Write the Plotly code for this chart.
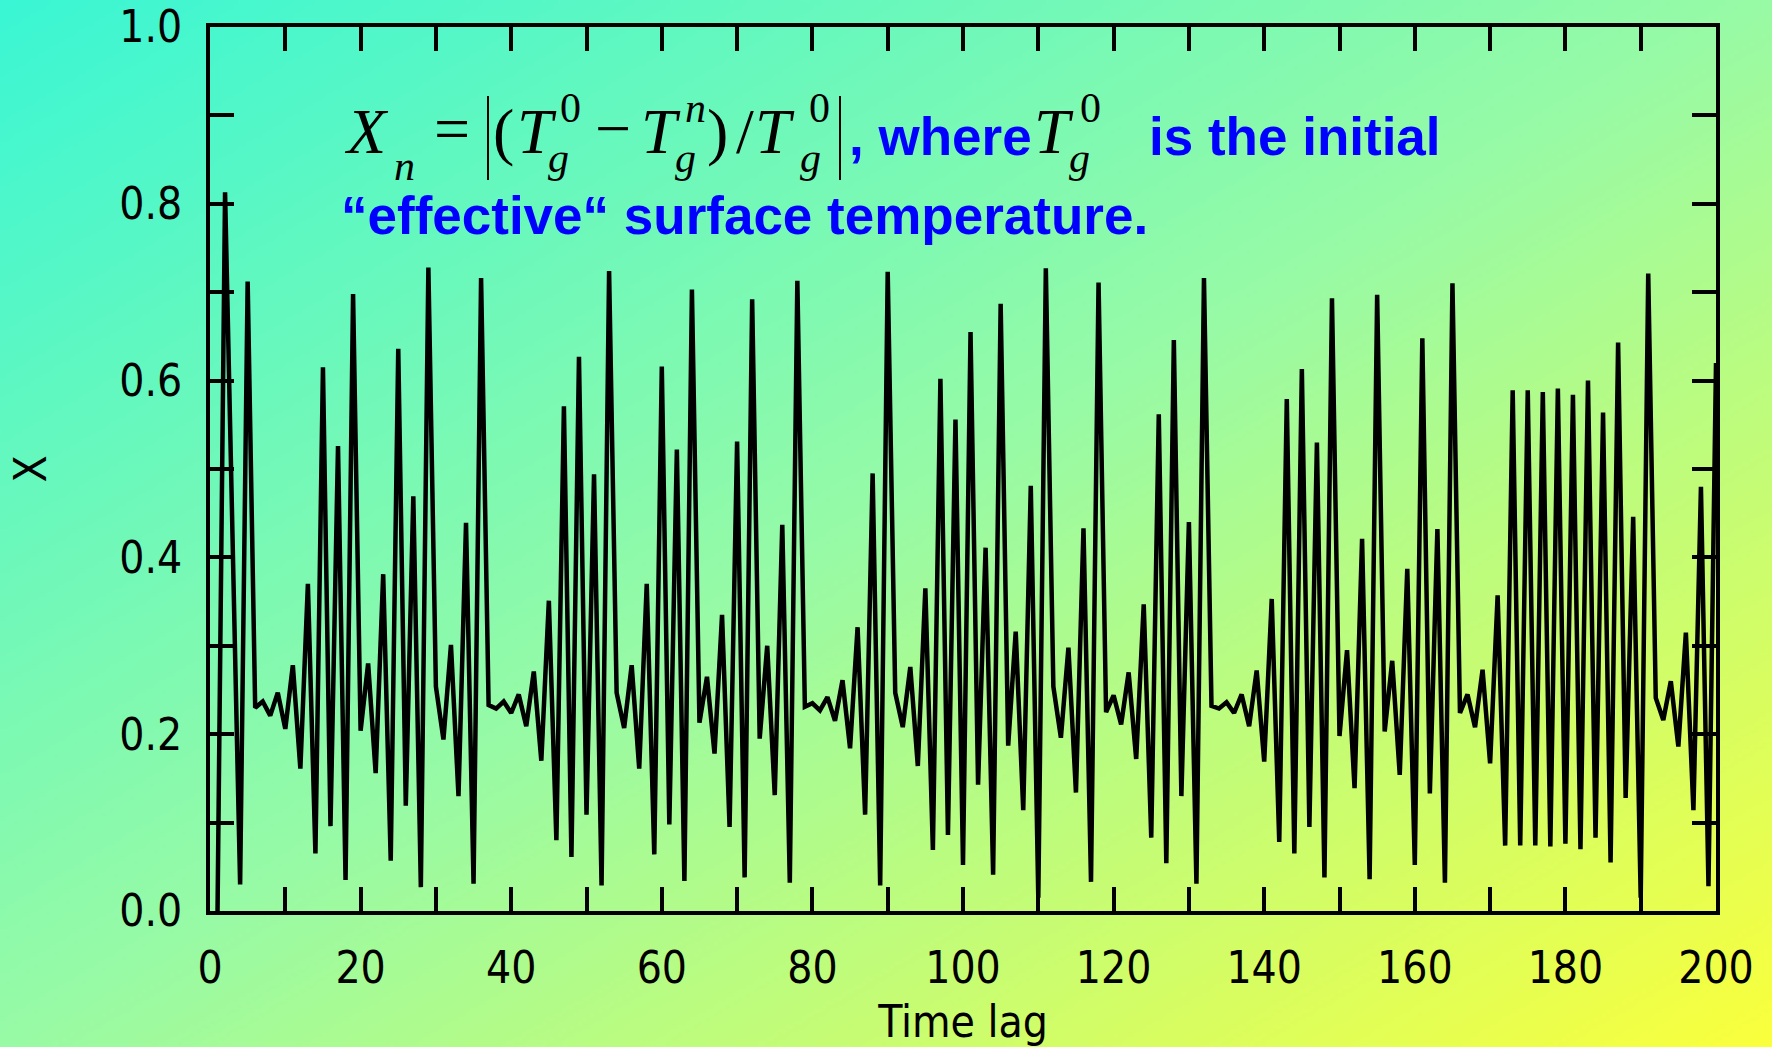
import base64, zlib, struct
import numpy as np
import plotly.graph_objects as go

# ---------------- data ----------------
time_lag = list(range(1, 201))
x_values = [
    0.000, 0.813, 0.420, 0.030, 0.712, 0.230, 0.237, 0.221, 0.247, 0.206,
    0.278, 0.161, 0.370, 0.065, 0.615, 0.096, 0.526, 0.035, 0.698, 0.204,
    0.280, 0.156, 0.381, 0.057, 0.636, 0.119, 0.469, 0.027, 0.728, 0.254,
    0.194, 0.301, 0.130, 0.439, 0.031, 0.716, 0.233, 0.229, 0.237, 0.224,
    0.245, 0.209, 0.271, 0.170, 0.351, 0.080, 0.571, 0.061, 0.627, 0.109,
    0.494, 0.029, 0.724, 0.247, 0.207, 0.278, 0.161, 0.370, 0.064, 0.616,
    0.098, 0.522, 0.034, 0.703, 0.213, 0.265, 0.178, 0.335, 0.095, 0.531,
    0.038, 0.692, 0.195, 0.300, 0.131, 0.437, 0.032, 0.713, 0.231, 0.235,
    0.227, 0.242, 0.215, 0.261, 0.184, 0.321, 0.109, 0.495, 0.029, 0.723,
    0.247, 0.208, 0.276, 0.164, 0.365, 0.069, 0.602, 0.086, 0.556, 0.052,
    0.655, 0.143, 0.411, 0.041, 0.687, 0.187, 0.316, 0.114, 0.481, 0.015,
    0.727, 0.254, 0.196, 0.298, 0.134, 0.433, 0.033, 0.711, 0.225, 0.244,
    0.211, 0.270, 0.172, 0.347, 0.083, 0.562, 0.054, 0.646, 0.130, 0.440,
    0.031, 0.716, 0.232, 0.229, 0.236, 0.224, 0.245, 0.209, 0.272, 0.169,
    0.353, 0.078, 0.579, 0.065, 0.613, 0.095, 0.530, 0.038, 0.693, 0.198,
    0.295, 0.139, 0.421, 0.036, 0.697, 0.203, 0.283, 0.154, 0.387, 0.052,
    0.648, 0.133, 0.432, 0.032, 0.710, 0.224, 0.245, 0.208, 0.273, 0.167,
    0.357, 0.074, 0.589, 0.074, 0.589, 0.074, 0.587, 0.073, 0.591, 0.076,
    0.584, 0.070, 0.600, 0.083, 0.564, 0.055, 0.643, 0.128, 0.446, 0.015,
    0.721, 0.241, 0.216, 0.260, 0.186, 0.315, 0.114, 0.480, 0.028, 0.620,
]
x_tickvals = [0, 10, 20, 30, 40, 50, 60, 70, 80, 90, 100,
              110, 120, 130, 140, 150, 160, 170, 180, 190, 200]
x_ticktext = ["0", "", "20", "", "40", "", "60", "", "80", "", "100",
              "", "120", "", "140", "", "160", "", "180", "", "200"]
y_tickvals = [0.0, 0.1, 0.2, 0.3, 0.4, 0.5, 0.6, 0.7, 0.8, 0.9, 1.0]
y_ticktext = ["0.0", "", "0.2", "", "0.4", "", "0.6", "", "0.8", "", "1.0"]

# ---------------- geometry ----------------
W, H = 1772, 1047
L, R, T, B = 210, 56, 27, 136
PW, PH = W - L - R, H - T - B
TICKFONT = "DejaVu Sans Condensed, DejaVu Sans, sans-serif"


def gradient_png(w, h):
    xs = np.linspace(0, 1, w)
    ys = np.linspace(0, 1, h)
    t = (xs[None, :] + ys[:, None]) / 2
    pos = [0.0, 0.5, 1.0]
    cols = [(58, 246, 212), (152, 250, 165), (250, 255, 60)]
    img = np.zeros((h, w, 3))
    for c in range(3):
        img[..., c] = np.interp(t, pos, [col[c] for col in cols])
    img = img.round().astype(np.uint8)
    raw = b"".join(b"\x00" + img[r].tobytes() for r in range(h))

    def chunk(tag, data):
        return (struct.pack(">I", len(data)) + tag + data
                + struct.pack(">I", zlib.crc32(tag + data) & 0xFFFFFFFF))
    png = (b"\x89PNG\r\n\x1a\n"
           + chunk(b"IHDR", struct.pack(">IIBBBBB", w, h, 8, 2, 0, 0, 0))
           + chunk(b"IDAT", zlib.compress(raw, 9))
           + chunk(b"IEND", b""))
    return "data:image/png;base64," + base64.b64encode(png).decode()


fig = go.Figure()
fig.add_trace(go.Scatter(
    x=time_lag, y=x_values, mode="lines",
    line=dict(color="black", width=4.5),
    hoverinfo="x+y", showlegend=False,
))

axis_common = dict(
    ticks="inside", ticklen=24, tickwidth=4, tickcolor="black",
    showline=True, linewidth=4, linecolor="black", mirror="allticks",
    showgrid=False, zeroline=False, ticklabeloverflow="allow",
    tickfont=dict(family=TICKFONT, size=44, color="black"),
)
fig.update_xaxes(range=[0, 200], tickmode="array", tickvals=x_tickvals,
                 ticktext=x_ticktext, ticklabelstandoff=15,
                 title=dict(text="Time lag", standoff=17,
                            font=dict(family=TICKFONT, size=44, color="black")),
                 **axis_common)
fig.update_yaxes(range=[0, 1.0], tickmode="array", tickvals=y_tickvals,
                 ticktext=y_ticktext, ticklabelstandoff=15,
                 title=dict(text="X", standoff=60,
                            font=dict(family=TICKFONT, size=44, color="black")),
                 **axis_common)

fig.add_layout_image(dict(
    source=gradient_png(443, 262), xref="paper", yref="paper",
    x=-L / PW, y=1 + T / PH, sizex=W / PW, sizey=H / PH,
    sizing="stretch", layer="below", xanchor="left", yanchor="top",
))


def px_x(x):
    return (x - L) / PW


def ann(text, x, base, size, family, color="black"):
    yc = base - 0.34 * size
    fig.add_annotation(text=text, xref="paper", yref="paper",
                       x=px_x(x), y=(H - B - yc) / PH,
                       xanchor="left", yanchor="middle", showarrow=False,
                       borderpad=0,
                       font=dict(family=family, size=size, color=color))


SERIF = "Liberation Serif, Times New Roman, serif"
SANS = "Liberation Sans, Arial, sans-serif"
BLUE = "#0000FF"
BIG, SMALL = 64, 42

# formula pieces
ann("<i>X</i>", 343, 153, BIG, SERIF)
ann("<i>n</i>", 393, 180, SMALL, SERIF)
ann("=", 433, 150, BIG, SERIF)
ann("(", 492, 153, BIG, SERIF)
ann("<i>T</i>", 516, 153, BIG, SERIF)
ann("0", 559, 122, SMALL, SERIF)
ann("<i>g</i>", 547, 172, SMALL, SERIF)
ann("\u2212", 594, 150, BIG, SERIF)
ann("<i>T</i>", 640, 153, BIG, SERIF)
ann("<i>n</i>", 684, 122, SMALL, SERIF)
ann("<i>g</i>", 674, 172, SMALL, SERIF)
ann(")", 706, 153, BIG, SERIF)
ann("/", 735, 153, BIG, SERIF)
ann("<i>T</i>", 754, 153, BIG, SERIF)
ann("0", 808, 122, SMALL, SERIF)
ann("<i>g</i>", 799, 172, SMALL, SERIF)
ann("<i>T</i>", 1033, 153, BIG, SERIF)
ann("0", 1079, 122, SMALL, SERIF)
ann("<i>g</i>", 1068, 172, SMALL, SERIF)

# blue text
ann("<b>, where</b>", 848, 155, 53, SANS, BLUE)
ann("<b>is the initial</b>", 1148, 155, 53, SANS, BLUE)
ann("<b>\u201ceffective\u201c surface temperature.</b>", 340, 234, 53, SANS, BLUE)

# absolute-value bars
for bx in (488, 840):
    fig.add_shape(type="line", xref="paper", yref="paper",
                  x0=px_x(bx), x1=px_x(bx),
                  y0=(H - B - 96) / PH, y1=(H - B - 180) / PH,
                  line=dict(color="black", width=2))

fig.update_layout(
    width=W, height=H,
    margin=dict(l=L, r=R, t=T, b=B, autoexpand=False),
    paper_bgcolor="#7FF5C0", plot_bgcolor="rgba(0,0,0,0)",
    showlegend=False,
)

fig.write_html("out.html", config={"displayModeBar": False},
               post_script="document.body.style.margin='0';document.body.style.overflow='hidden';")
